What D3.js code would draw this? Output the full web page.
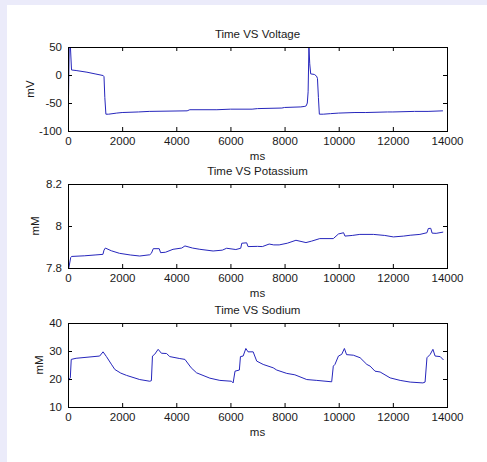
<!DOCTYPE html>
<html>
<head>
<meta charset="utf-8">
<script src="https://cdn.jsdelivr.net/npm/d3@7"></script>
<style>
body { margin: 0; background: #ebebfa; }
svg { display: block; }
text { font-family: "Liberation Sans", Arial, sans-serif; fill: #1a1a1a; }
</style>
</head>
<body>
<div id="content"></div>
<script>
var width = 487;
var height = 462;

// time axis shared by all three plots
var xTicks = [0, 2000, 4000, 6000, 8000, 10000, 12000, 14000];

var voltageTime = [0, 20, 45, 90, 130, 300, 700, 1000, 1300, 1330, 1360, 1400, 1500, 1800, 2000, 2600, 3000,
    4400, 4500, 5500, 6000, 6800, 7000, 7900, 8000, 8600, 8750, 8800, 8840, 8870, 8900, 8930, 8965, 9100,
    9180, 9215, 9250, 9285, 9430, 9700, 10000, 10600, 11000, 11800, 12000, 12800, 13300, 13850];
var voltageValues = [-40, -35, 50, 50, 9, 8, 5, 2, -1, -3, -40, -70, -70, -68, -67, -66, -65,
    -64, -62, -62, -61, -61, -60, -59, -58, -57, -56, -55, -50, -30, 50, 20, 2, 1,
    -2, -6, -40, -70, -70, -69, -68, -67, -67, -66, -66, -65, -65, -64];

var potassiumTime = [0, 30, 100, 130, 600, 1000, 1290, 1330, 1380, 1600, 1900, 2300, 2650, 3020, 3080, 3150,
    3370, 3420, 3600, 3880, 4200, 4320, 4600, 4870, 5360, 5700, 5860, 6200, 6380, 6420, 6600, 6650, 7000,
    7180, 7430, 7600, 7800, 8100, 8420, 8790, 9000, 9300, 9800, 9990, 10180, 10230, 10500, 10780, 11280,
    11700, 12020, 12400, 12640, 13000, 13260, 13310, 13400, 13450, 13600, 13860];
var potassiumValues = [7.80, 7.80, 7.85, 7.855, 7.858, 7.862, 7.865, 7.885, 7.895, 7.882, 7.870, 7.862, 7.857, 7.863, 7.870, 7.892,
    7.892, 7.873, 7.875, 7.889, 7.895, 7.905, 7.895, 7.889, 7.881, 7.885, 7.894, 7.888, 7.894, 7.918, 7.920, 7.902, 7.903,
    7.902, 7.914, 7.910, 7.910, 7.918, 7.932, 7.921, 7.928, 7.940, 7.940, 7.962, 7.968, 7.952, 7.955, 7.960, 7.960,
    7.955, 7.948, 7.952, 7.956, 7.960, 7.968, 7.988, 7.989, 7.966, 7.965, 7.971];

var sodiumTime = [0, 25, 85, 120, 300, 1170, 1295, 1420, 1600, 1730, 1950, 2160, 2650, 3020, 3080, 3120, 3200, 3330, 3450,
    3640, 3760, 4130, 4320, 4550, 4750, 5240, 5610, 6040, 6100, 6170, 6330, 6370, 6470, 6570, 6650, 6840, 6970,
    7210, 7580, 7710, 8080, 8380, 8820, 9190, 9740, 9800, 9860, 9990, 10110, 10210, 10290, 10540, 10790,
    11040, 11160, 11340, 11530, 11900, 12270, 12640, 13110, 13190, 13260, 13380, 13480, 13560, 13750, 13870];
var sodiumValues = [16.8, 19.8, 20.4, 27.0, 27.4, 28.2, 29.7, 28.0, 25.3, 23.4, 22.1, 21.3, 19.8, 19.2, 19.4, 28.2, 28.8, 30.6, 29.2,
    29.1, 28.0, 27.3, 27.0, 24.0, 22.2, 20.3, 19.5, 19.2, 18.6, 22.8, 23.2, 28.0, 28.2, 30.9, 29.7, 29.7, 26.4,
    25.2, 24.0, 23.2, 22.0, 21.5, 19.8, 19.5, 19.0, 24.6, 25.2, 28.2, 28.8, 30.9, 28.7, 28.5, 27.6,
    25.2, 24.6, 22.8, 22.5, 20.4, 19.5, 18.9, 18.6, 18.9, 27.6, 28.8, 30.6, 28.2, 28.0, 26.8];

var panelTitles = ['Time VS Voltage', 'Time VS Potassium', 'Time VS Sodium'];
var yLabels = ['mV', 'mM', 'mM'];
var yDomains = [[-100, 50], [7.8, 8.2], [10, 40]];
var yTicks = [[-100, -50, 0, 50], [7.8, 8, 8.2], [10, 20, 30, 40]];

var panels = [
    { time: voltageTime, values: voltageValues },
    { time: potassiumTime, values: potassiumValues },
    { time: sodiumTime, values: sodiumValues }
];

// layout
var axLeft = 68, axRight = 447, axH = 84;
var axTops = [47, 184, 323];
var yLabelX = [30, 35, 39];

var svg = d3.select('div#content').append('svg')
    .attr('width', width)
    .attr('height', height);

svg.append('rect')
    .attr('x', 7).attr('y', 5)
    .attr('width', width - 7).attr('height', height - 5)
    .attr('fill', '#ffffff');

var x = d3.scaleLinear().domain([0, 14000]).range([axLeft, axRight]);

panels.forEach(function(p, i){
    var top = axTops[i], bottom = top + axH;
    var y = d3.scaleLinear().domain(yDomains[i]).range([bottom, top]);
    var g = svg.append('g');

    g.append('clipPath').attr('id', 'clip' + i)
        .append('rect')
        .attr('x', axLeft).attr('y', top)
        .attr('width', axRight - axLeft).attr('height', axH);

    var line = d3.line()
        .x(function(d){ return x(d[0]); })
        .y(function(d){ return y(d[1]); });

    g.append('path')
        .datum(d3.zip(p.time, p.values))
        .attr('clip-path', 'url(#clip' + i + ')')
        .attr('fill', 'none')
        .attr('stroke', '#2626bc')
        .attr('stroke-width', 1)
        .attr('d', line);

    var fmt = function(d){ return String(d); };

    var xb = g.append('g').attr('transform', 'translate(0,' + bottom + ')')
        .call(d3.axisBottom(x).tickValues(xTicks).tickFormat(fmt)
            .tickSizeInner(-4).tickSizeOuter(0).tickPadding(6));
    var xt = g.append('g').attr('transform', 'translate(0,' + top + ')')
        .call(d3.axisTop(x).tickValues(xTicks).tickFormat('')
            .tickSizeInner(-4).tickSizeOuter(0));
    var yl = g.append('g').attr('transform', 'translate(' + axLeft + ',0)')
        .call(d3.axisLeft(y).tickValues(yTicks[i]).tickFormat(fmt)
            .tickSizeInner(-4).tickSizeOuter(0).tickPadding(6));
    var yr = g.append('g').attr('transform', 'translate(' + axRight + ',0)')
        .call(d3.axisRight(y).tickValues(yTicks[i]).tickFormat('')
            .tickSizeInner(-4).tickSizeOuter(0));

    [xb, xt, yl, yr].forEach(function(a){
        a.select('.domain').remove();
        a.selectAll('line').attr('stroke', '#000');
        a.selectAll('text').attr('font-size', 11.5)
            .attr('font-family', '"Liberation Sans", Arial, sans-serif')
            .attr('fill', '#1a1a1a');
    });

    g.append('rect')
        .attr('x', axLeft + 0.5).attr('y', top + 0.5)
        .attr('width', axRight - axLeft).attr('height', axH)
        .attr('fill', 'none')
        .attr('stroke', '#000')
        .attr('stroke-width', 1);

    g.append('text')
        .attr('x', (axLeft + axRight) / 2).attr('y', top - 9)
        .attr('text-anchor', 'middle')
        .attr('font-size', 11.5)
        .text(panelTitles[i]);

    g.append('text')
        .attr('x', (axLeft + axRight) / 2).attr('y', bottom + 29)
        .attr('text-anchor', 'middle')
        .attr('font-size', 11.5)
        .text('ms');

    g.append('text')
        .attr('transform', 'translate(' + (yLabelX[i] + 4) + ',' + (top + axH / 2) + ') rotate(-90)')
        .attr('text-anchor', 'middle')
        .attr('font-size', 11.5)
        .text(yLabels[i]);
});
</script>
</body>
</html>
